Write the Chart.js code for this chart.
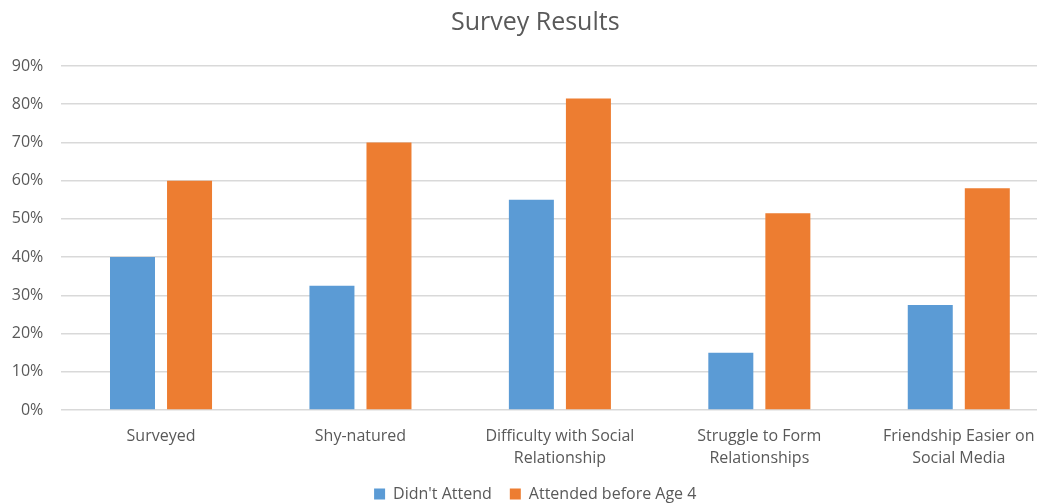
<!DOCTYPE html>
<html>
<head>
<meta charset="utf-8">
<script src="https://cdn.jsdelivr.net/npm/chart.js@4/dist/chart.umd.min.js"></script>
<style>
html,body{margin:0;padding:0;background:#fff;overflow:hidden;}
#wrap{width:1037px;height:503px;position:relative;overflow:hidden;}
#c{position:absolute;left:0;top:0;}
</style>
</head>
<body>
<div id="wrap"><canvas id="c" width="1077" height="512"></canvas></div>
<script>
const categories = [
  "Surveyed",
  "Shy-natured",
  ["Difficulty with Social", "Relationship"],
  ["Struggle to Form", "Relationships"],
  ["Friendship Easier on", "Social Media"]
];
const didntAttend = [0.40, 0.325, 0.55, 0.15, 0.275];
const attendedBefore4 = [0.60, 0.70, 0.815, 0.515, 0.58];
const seriesNames = ["Didn't Attend", "Attended before Age 4"];
const yMax = 0.9;
const yStep = 0.1;

const FONT = "'Open Sans', 'Liberation Sans', sans-serif";
new Chart(document.getElementById('c'), {
  type: 'bar',
  data: {
    labels: categories,
    datasets: [
      { label: seriesNames[0], data: didntAttend, backgroundColor: '#5b9bd5', barPercentage: 0.789, categoryPercentage: 0.572 },
      { label: seriesNames[1], data: attendedBefore4, backgroundColor: '#ed7d31', barPercentage: 0.789, categoryPercentage: 0.572 }
    ]
  },
  options: {
    responsive: false,
    animation: false,
    layout: { padding: { left: 12, right: 18.5, top: 8, bottom: 0 } },
    plugins: {
      title: {
        display: true,
        text: 'Survey Results',
        color: '#595959',
        font: { family: FONT, size: 25, weight: 'normal', lineHeight: 1.2 },
        padding: { top: 0, bottom: 28 }
      },
      legend: {
        position: 'bottom',
        labels: {
          color: '#595959',
          font: { family: FONT, size: 16 },
          boxWidth: 11, boxHeight: 11,
          padding: 18
        }
      },
      tooltip: { enabled: false }
    },
    scales: {
      y: {
        min: 0, max: yMax,
        afterFit: s => { s.width = 49.3; },
        ticks: {
          stepSize: yStep,
          color: '#595959',
          font: { family: FONT, size: 16 },
          padding: 18,
          callback: v => Math.round(v * 100) + '%'
        },
        grid: { color: '#d9d9d9', drawTicks: false, lineWidth: 1.5 },
        border: { display: false }
      },
      x: {
        afterFit: s => { s.height = 58; },
        ticks: {
          color: '#595959',
          font: { family: FONT, size: 16, lineHeight: 1.375 },
          padding: 15,
          maxRotation: 0,
          autoSkip: false
        },
        grid: { display: false, drawTicks: false },
        border: { display: false }
      }
    }
  }
});
</script>
</body>
</html>
